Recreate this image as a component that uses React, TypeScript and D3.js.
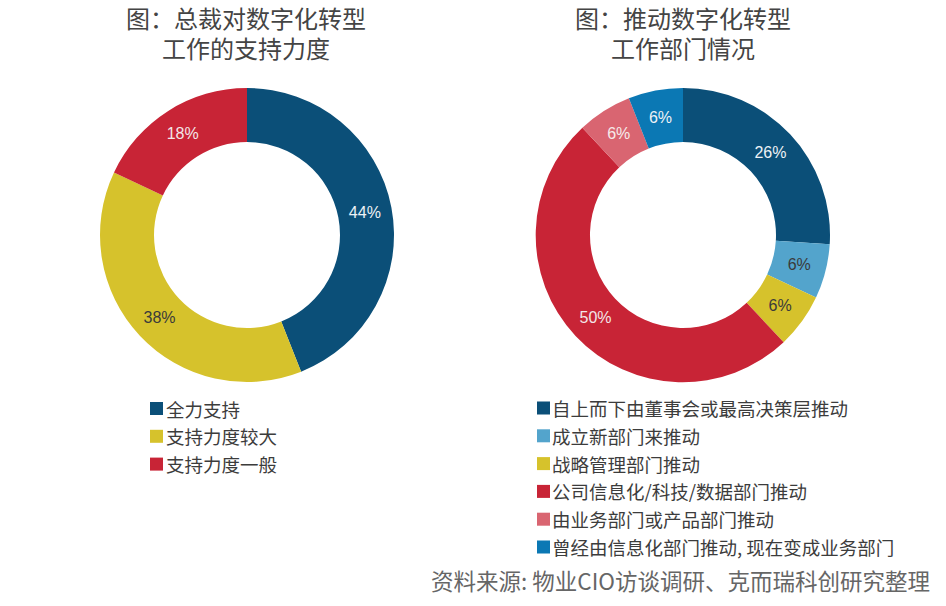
import React from "react";
import * as d3 from "d3";

const leftTitle = ["图：总裁对数字化转型", "工作的支持力度"];
const rightTitle = ["图：推动数字化转型", "工作部门情况"];

const leftCategories = ["全力支持", "支持力度较大", "支持力度一般"];
const leftValues = [44, 38, 18];
const leftColors = ["#0b4f78", "#d6c22c", "#c82436"];
const leftLabelColors = ["#eef2f6", "#3a3a3a", "#f3e6e8"];

const rightCategories = [
  "自上而下由董事会或最高决策层推动",
  "成立新部门来推动",
  "战略管理部门推动",
  "公司信息化/科技/数据部门推动",
  "由业务部门或产品部门推动",
  "曾经由信息化部门推动, 现在变成业务部门",
];
const rightValues = [26, 6, 6, 50, 6, 6];
const rightColors = ["#0b4f78", "#53a4cc", "#d6c22c", "#c82436", "#d96571", "#0b78b4"];
const rightLabelColors = ["#eef2f6", "#3a3a3a", "#3a3a3a", "#f3e6e8", "#f6eaea", "#eef2f6"];

const sourceText = "资料来源: 物业CIO访谈调研、克而瑞科创研究整理";

const FONT = "'Noto Sans CJK SC', 'Noto Sans', sans-serif";
const LABEL_FONT = "'Liberation Sans', Arial, sans-serif";

function Donut({ cx, cy, values, colors, labelColors }: any) {
  const outer = 147;
  const inner = 93;
  const pie = d3.pie<number>().sort(null).value((d) => d)(values);
  const arc = d3.arc<d3.PieArcDatum<number>>().innerRadius(inner).outerRadius(outer);
  const labelArc = d3.arc<d3.PieArcDatum<number>>().innerRadius(120).outerRadius(120);
  return (
    <g transform={`translate(${cx},${cy})`}>
      {pie.map((p, i) => (
        <path key={i} d={arc(p) || ""} fill={colors[i]} />
      ))}
      {pie.map((p, i) => {
        const [x, y] = labelArc.centroid(p);
        return (
          <text
            key={"l" + i}
            x={x}
            y={y}
            textAnchor="middle"
            dominantBaseline="central"
            fontFamily={LABEL_FONT}
            fontSize={16}
            fill={labelColors[i]}
          >
            {p.data}%
          </text>
        );
      })}
    </g>
  );
}

function Legend({ x, y, items, colors, textX }: any) {
  return (
    <g>
      {items.map((t: string, i: number) => (
        <g key={i}>
          <rect x={x} y={y + i * 27.8 - 6.5} width={13} height={13} fill={colors[i]} />
          <text
            x={textX}
            y={y + i * 27.8}
            dominantBaseline="central"
            fontFamily={FONT}
            fontSize={18.5}
            fill="#3c3c3c"
          >
            {t}
          </text>
        </g>
      ))}
    </g>
  );
}

function Title({ x, lines }: any) {
  return (
    <text
      x={x}
      y={28}
      textAnchor="middle"
      fontFamily={FONT}
      fontSize={24}
      fill="#444"
    >
      {lines.map((t: string, i: number) => (
        <tspan key={i} x={x} dy={i === 0 ? 0 : 29.5}>
          {t}
        </tspan>
      ))}
    </text>
  );
}

export default function App() {
  return (
    <svg
      width={946}
      height={606}
      style={{ position: "absolute", left: 0, top: 0, background: "#fff" }}
    >
      <rect width={946} height={606} fill="#fff" />
      <Title x={246} lines={leftTitle} />
      <Title x={683} lines={rightTitle} />
      <Donut cx={247} cy={235} values={leftValues} colors={leftColors} labelColors={leftLabelColors} />
      <Donut cx={683} cy={235} values={rightValues} colors={rightColors} labelColors={rightLabelColors} />
      <Legend x={150} y={408.5} items={leftCategories} colors={leftColors} textX={166} />
      <Legend x={537} y={408} items={rightCategories} colors={rightColors} textX={552} />
      <text
        x={930}
        y={580}
        textAnchor="end"
        dominantBaseline="central"
        fontFamily={FONT}
        fontSize={22.5}
        fill="#666"
      >
        {sourceText}
      </text>
    </svg>
  );
}
